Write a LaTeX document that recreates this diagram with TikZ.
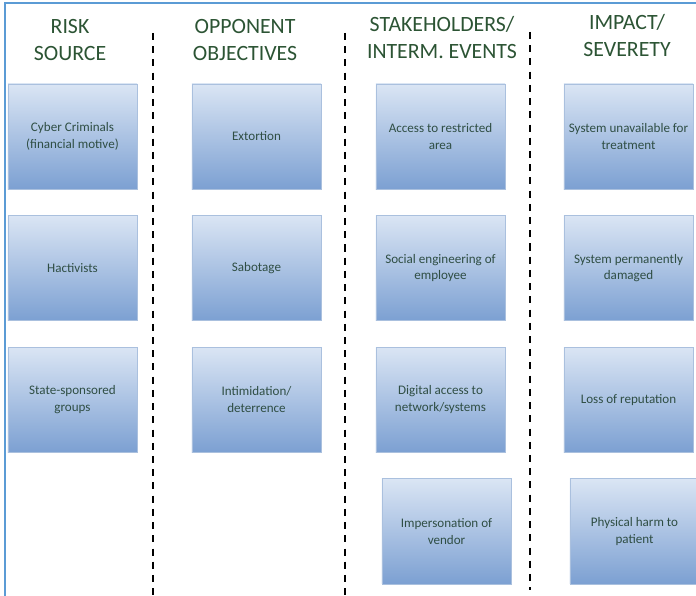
\documentclass[tikz,border=0pt]{standalone}
\usepackage{fontspec}
\setmainfont{Carlito}
\usetikzlibrary{positioning}
\definecolor{headgreen}{RGB}{44,84,52}
\definecolor{boxtext}{RGB}{47,78,68}
\definecolor{boxtop}{RGB}{218,229,244}
\definecolor{boxbottom}{RGB}{124,160,210}
\definecolor{boxline}{RGB}{170,192,222}
\definecolor{frameblue}{RGB}{91,155,213}
\tikzset{
  heading/.style={align=center,text=headgreen,inner sep=0pt,font=\fontsize{15.5}{19.2}\selectfont},
  riskbox/.style={draw=boxline,line width=0.4pt,top color=boxtop,bottom color=boxbottom,
    minimum width=3.225cm,minimum height=2.625cm,inner sep=0pt,align=center,text=boxtext,
    font=\fontsize{9.3}{11.8}\selectfont},
  divider/.style={line width=1.8pt,dash pattern=on 5pt off 4.4pt}
}

\begin{document}
\begin{tikzpicture}[x=0.025cm,y=-0.025cm]
\useasboundingbox (0,0) rectangle (696,596);
\clip (0,0) rectangle (696,596);
% frame
\draw[frameblue,line width=1.2pt] (5,596) -- (5,3) -- (700,3);
% column headings
\node[heading] (hsource) at (70,40) {RISK\\SOURCE};
\node[heading] (hobjective) at (245,40) {OPPONENT\\OBJECTIVES};
\node[heading] (hevent) at (442,38) {STAKEHOLDERS/\\INTERM. EVENTS};
\node[heading] (himpact) at (627,36) {IMPACT/\\SEVERETY};
% dividers
\draw[divider] (153,33) -- (153,596);
\draw[divider] (345,33) -- (345,596);
\draw[divider] (530,32) -- (530,590);
% risk sources
\node[riskbox] (cyber) at (72.5,136.5) {Cyber Criminals\\(financial motive)};
\node[riskbox,below=0.65cm of cyber] (hacktivist) {Hactivists};
\node[riskbox,below=0.65cm of hacktivist] (state) {State-sponsored\\groups};
% objectives
\node[riskbox] (extortion) at (256.5,136.5) {Extortion};
\node[riskbox,below=0.65cm of extortion] (sabotage) {Sabotage};
\node[riskbox,below=0.65cm of sabotage] (intimidation) {Intimidation/\\deterrence};
% intermediate events
\node[riskbox] (access) at (440.5,136.5) {Access to restricted\\area};
\node[riskbox,below=0.65cm of access] (social) {Social engineering of\\employee};
\node[riskbox,below=0.65cm of social] (digital) {Digital access to\\network/systems};
\node[riskbox,below=0.65cm of digital,xshift=0.15cm] (vendor) {Impersonation of\\vendor};
% impacts
\node[riskbox] (unavailable) at (628.5,136.5) {System unavailable for\\treatment};
\node[riskbox,below=0.65cm of unavailable] (damaged) {System permanently\\damaged};
\node[riskbox,below=0.65cm of damaged] (reputation) {Loss of reputation};
\node[riskbox,below=0.65cm of reputation,xshift=0.15cm] (harm) {Physical harm to\\patient};
\end{tikzpicture}
\end{document}
